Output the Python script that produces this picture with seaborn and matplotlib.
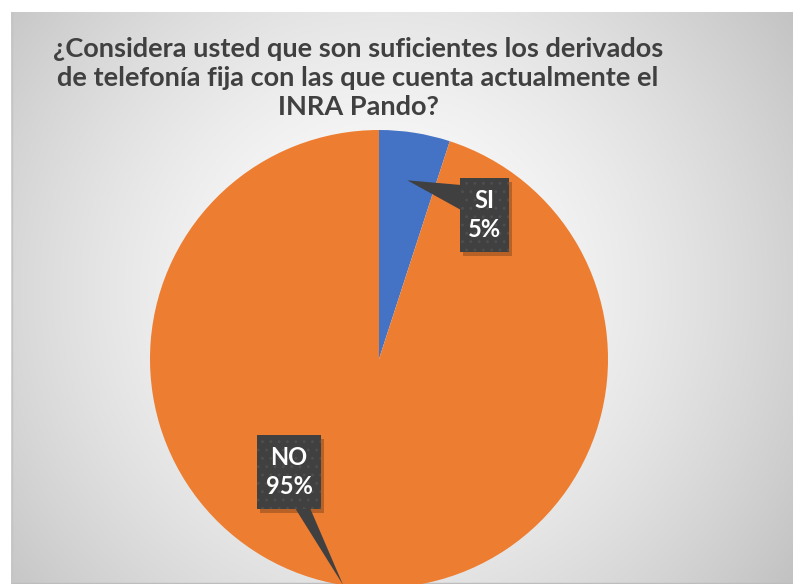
import numpy as np
import matplotlib
matplotlib.use("Agg")
import matplotlib.pyplot as plt
import seaborn as sns
from matplotlib.patches import Polygon

sns.set_theme(style="white")
plt.rcParams['font.family'] = ['Lato', 'DejaVu Sans']
plt.rcParams['hatch.linewidth'] = 0.9

# ---- data ----
categories = ["SI", "NO"]
values = [5, 95]
colors = ["#4472C4", "#ED7D31"]
title = ("¿Considera usted que son suficientes los derivados\n"
         "de telefonía fija con las que cuenta actualmente el\n"
         "INRA Pando?")

W, H = 793, 584
fig = plt.figure(figsize=(W / 100, H / 100), dpi=100)
fig.patch.set_facecolor("white")

# background panel with radial gradient
bx0, by0 = 11, 12
bg = fig.add_axes([bx0 / W, 0, 1 - bx0 / W, 1 - by0 / H])
bg.set_axis_off()
yy, xx = np.mgrid[0:H - by0, 0:W - bx0]
cx, cy = 385 - bx0, 290 - by0
d = np.sqrt((xx - cx) ** 2 + (yy - cy) ** 2)
d = d / d.max()
g = 1.0 - 0.24 * np.clip(d, 0, 1) ** 1.5
img = np.dstack([g, g, g])
bg.imshow(img, aspect="auto", extent=[0, 1, 1, 0])
bg.set_xlim(0, 1); bg.set_ylim(1, 0)
bg.plot([0, 1], [0.001, 0.001], color="#bdbdbd", lw=1.0, transform=bg.transAxes)
bg.plot([0.001, 0.001], [0, 1], color="#c4c4c4", lw=1.0, transform=bg.transAxes)

# pie axes
R = 229
pcx, pcy = 379, 359
ax = fig.add_axes([(pcx - R) / W, (H - pcy - R) / H, 2 * R / W, 2 * R / H])
ax.set_axis_off()
wedges, _ = ax.pie(values, colors=colors, startangle=90, counterclock=False,
                   radius=1.0, wedgeprops=dict(linewidth=0))
ax.set_xlim(-1, 1); ax.set_ylim(-1, 1)
ax.set_aspect("auto")

def px(x, y):
    return ((x - pcx) / R, (pcy - y) / R)

def callout(box, base, tip, text):
    (x0, y0, x1, y1) = box
    corners = [(x0, y0), (x1, y0), (x1, y1), (x0, y1)]
    pts_box = [px(x, y) for x, y in corners]
    sh = [px(x + 3, y + 4) for x, y in corners]
    ax.add_patch(Polygon(sh, closed=True, facecolor="#000000", alpha=0.22, edgecolor="none", zorder=4))
    tri = [px(*base[0]), px(*base[1]), tip]
    ax.add_patch(Polygon(tri, closed=True, facecolor="#404040", edgecolor="none", zorder=5))
    ax.add_patch(Polygon(pts_box, closed=True, facecolor="#404040", edgecolor="none", zorder=5))
    ax.add_patch(Polygon(pts_box, closed=True, facecolor="none", edgecolor="#4e4e4e",
                         linewidth=0, hatch="..", zorder=5.5))
    cxm, cym = px((x0 + x1) / 2, (y0 + y1) / 2)
    ax.text(cxm, cym, text, ha="center", va="center", color="white",
            fontsize=17, fontweight="bold", linespacing=1.35, zorder=6)

def tip_point(w, r):
    ang = np.deg2rad((w.theta1 + w.theta2) / 2)
    return (r * np.cos(ang), r * np.sin(ang))

labels = [f"{c}\n{v}%" for c, v in zip(categories, values)]
callout((460, 178, 509, 252), [(461, 185), (461, 210)], tip_point(wedges[0], 0.79), labels[0])
callout((257, 435, 321, 509), [(295, 508), (310, 508)], tip_point(wedges[1], 1.0), labels[1])

fig.text(358 / W, 1 - 78 / H, title, ha="center", va="center", color="#404040",
         fontsize=19.5, fontweight="bold", linespacing=1.25)

fig.savefig("out.png", dpi=100)
